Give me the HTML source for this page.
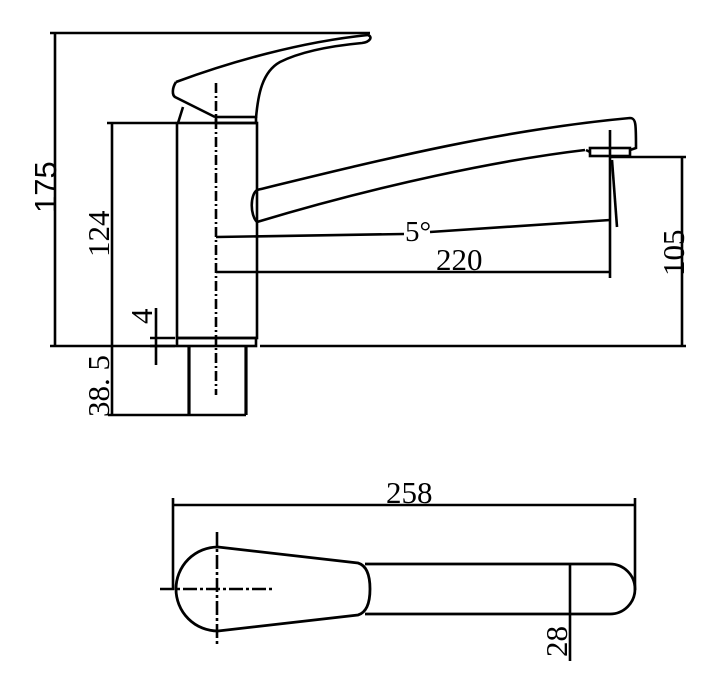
<!DOCTYPE html>
<html><head><style>html,body{margin:0;padding:0;background:#fff}svg{display:block}</style></head><body>
<svg width="720" height="694" viewBox="0 0 720 694" xmlns="http://www.w3.org/2000/svg" fill="none" stroke="#000" stroke-width="2.6" font-family="Liberation Serif, serif">
<line x1="50" y1="33" x2="370" y2="33"/>
<line x1="55" y1="33" x2="55" y2="346"/>
<line x1="50" y1="346" x2="176" y2="346"/>
<line x1="260" y1="346" x2="686" y2="346"/>
<line x1="107" y1="123" x2="176" y2="123"/>
<line x1="112" y1="123" x2="112" y2="415"/>
<line x1="108" y1="415" x2="246" y2="415"/>
<rect x="177" y="123" width="80" height="215"/>
<rect x="177" y="338" width="79" height="8"/>
<line x1="189" y1="346" x2="189" y2="415" stroke-width="3.2"/>
<line x1="246" y1="346" x2="246" y2="415" stroke-width="3.2"/>
<path d="M176,82 C230,62 300,42 368,35 C373,37 370,42 362,43 C330,46 300,52 280,62 C262,72 258,95 256,118"/>
<path d="M176,82 C172,88 172,95 175,97 L215,117"/>
<rect x="216" y="117" width="40" height="6"/>
<line x1="183" y1="107" x2="178" y2="123"/>
<line x1="216" y1="83" x2="216" y2="395" stroke-dasharray="10,3,2,3"/>
<line x1="156" y1="308" x2="156" y2="365"/>
<line x1="150" y1="338" x2="175" y2="338"/>
<line x1="150" y1="346" x2="175" y2="346"/>
<path d="M257,190 C380,160 500,130 630,118 C636,118 636,124 636,148 L630,150"/>
<path d="M257,222 C250,215 250,195 257,190"/>
<path d="M257,222 C380,185 500,160 585,150"/>
<rect x="590" y="148" width="40" height="8"/>
<line x1="586" y1="150" x2="590" y2="152"/>
<line x1="610" y1="157" x2="686" y2="157"/>
<line x1="682" y1="157" x2="682" y2="346"/>
<line x1="610" y1="130" x2="610" y2="278"/>
<line x1="612" y1="160" x2="617" y2="227"/>
<line x1="216" y1="237" x2="404" y2="234"/>
<line x1="430" y1="232" x2="610" y2="220"/>
<line x1="216" y1="272" x2="610" y2="272"/>
<g fill="#000" stroke="none" font-size="31">
<text x="405" y="241" font-size="29">5°</text>
<text x="436" y="270">220</text>
<text transform="translate(56,213) rotate(-90)" font-family="Liberation Sans, sans-serif" font-size="31">175</text>
<text transform="translate(109,257) rotate(-90)">124</text>
<text transform="translate(152,324) rotate(-90)">4</text>
<text transform="translate(109,417) rotate(-90)">38. 5</text>
<text transform="translate(684,276) rotate(-90)">105</text>
<text x="386" y="503" font-size="31">258</text>
<text transform="translate(567,657) rotate(-90)">28</text>
</g>
<line x1="173" y1="505" x2="635" y2="505"/>
<line x1="173" y1="498" x2="173" y2="590"/>
<line x1="635" y1="498" x2="635" y2="590"/>
<path d="M218,547 A42,42 0 0 0 218,631 L358,615 C368,612 370,600 370,589 C370,578 368,566 358,563 Z" stroke-width="2.8"/>
<path d="M365,564 L610,564 A25,25 0 0 1 610,614 L365,614" stroke-width="2.8"/>
<line x1="160" y1="589" x2="275" y2="589" stroke-dasharray="14,3,3,3"/>
<line x1="217" y1="532" x2="217" y2="647" stroke-dasharray="14,3,3,3"/>
<line x1="570" y1="565" x2="570" y2="661"/>
</svg>
</body></html>
